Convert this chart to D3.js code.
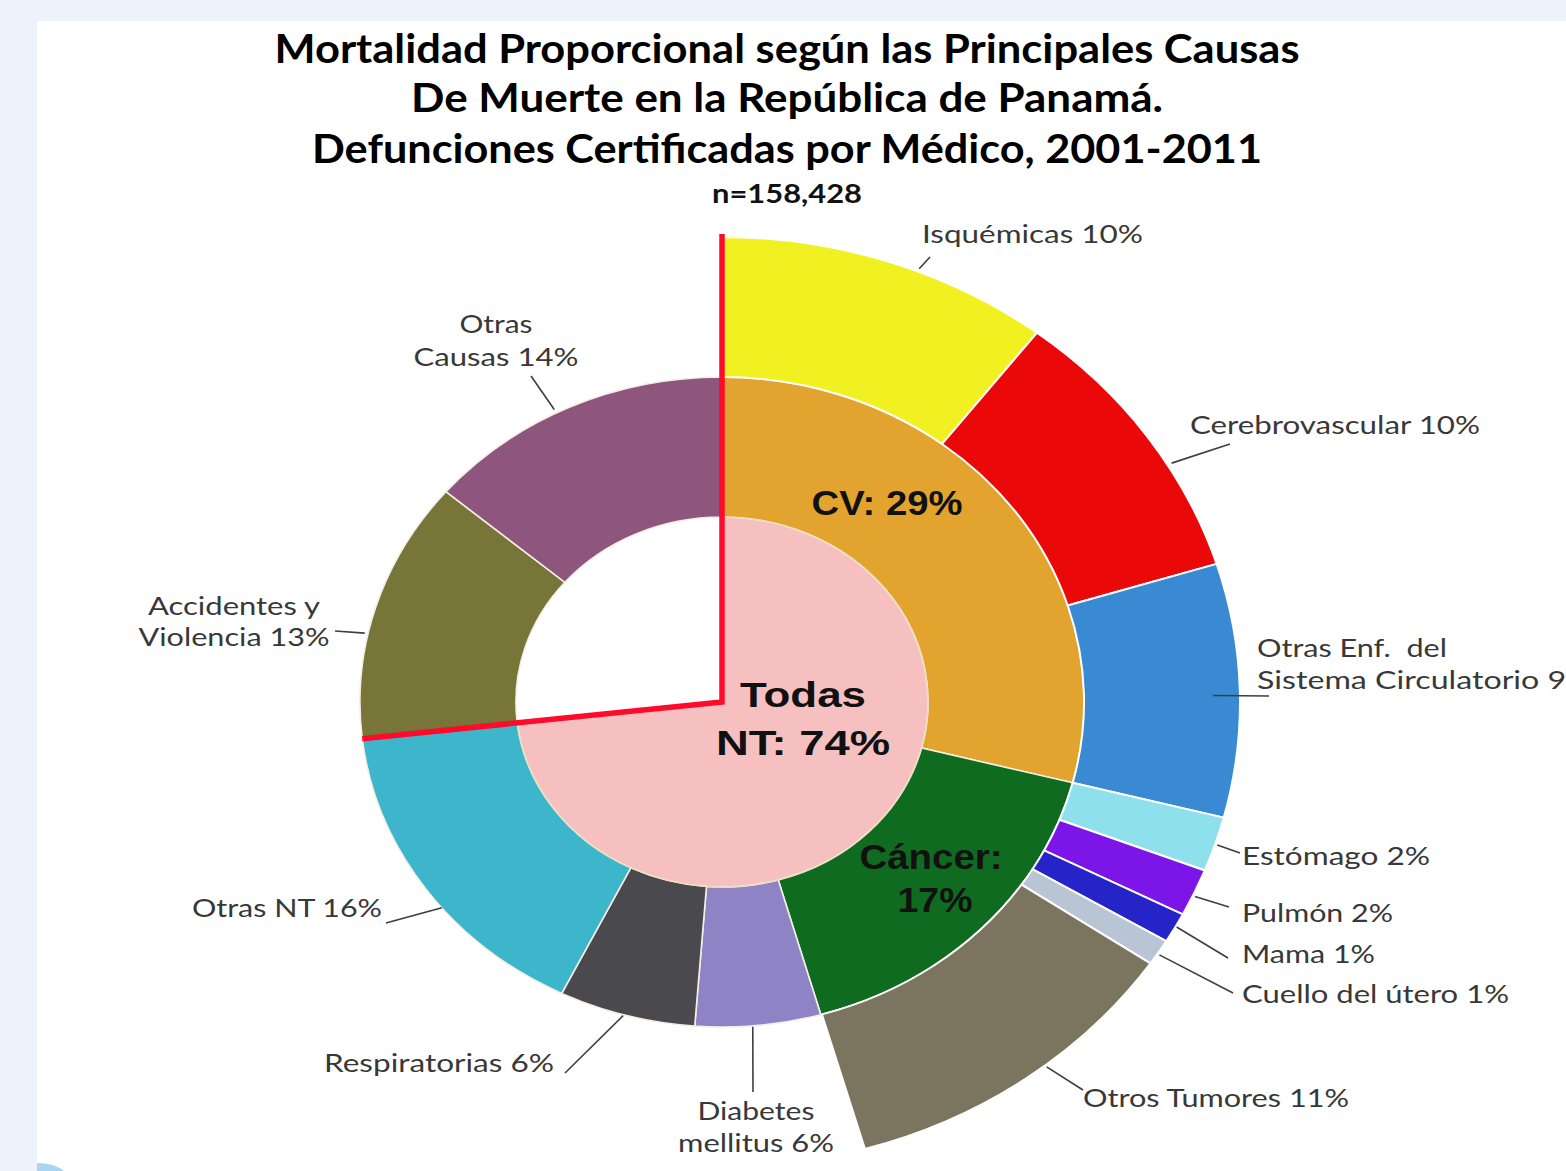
<!DOCTYPE html>
<html><head><meta charset="utf-8">
<script src="https://cdn.jsdelivr.net/npm/d3@7"></script>
<style>
html,body{margin:0;padding:0;background:#eef3fb;overflow:hidden;}
svg{display:block;}
text{white-space:pre;}
</style></head><body>
<svg id="chart" width="1566" height="1171"></svg>
<script>
// ---------------- DATA ----------------
const titleLines = ["Mortalidad Proporcional según las Principales Causas",
                    "De Muerte en la República de Panamá.",
                    "Defunciones Certificadas por Médico, 2001-2011"];
const totalN = "158,428";
const ntName = "Todas NT";
const ntValue = 73.2;      // share of the circle
const ntPct = 74;          // printed label
const groupNames = ["CV","Cáncer","Diabetes mellitus","Respiratorias","Otras NT","Accidentes y Violencia","Otras Causas"];
const groupValues = [29.0, 16.6, 5.6, 6.1, 15.9, 13.0, 13.8];
const groupPct = [29, 17, 6, 6, 16, 13, 14];
const subParents = ["CV","CV","CV","Cáncer","Cáncer","Cáncer","Cáncer","Cáncer"];
const subNames = ["Isquémicas","Cerebrovascular","Otras Enf. del Sistema Circulatorio","Estómago","Pulmón","Mama","Cuello del útero","Otros Tumores"];
const subValues = [10.4, 9.8, 8.8, 1.9, 1.65, 1.05, 0.9, 11.05];
const subPct = [10, 10, 9, 2, 2, 1, 1, 11];

// ---------------- STYLE / LAYOUT ----------------
const W = 1566, H = 1171;
const cx = 722, cy = 702, sx = 1.114;
const r0 = 185, r1 = 325, r2 = 465;
const pinkColor = "#f7c0c0";
const groupColors = ["#e2a42e","#0f6b1f","#8d83c5","#4a4a4e","#3db6cb","#777537","#8e557d"];
const subColors = ["#f1f121","#eb0808","#3a8ad3","#8ee0ec","#7b15e8","#2424c8","#b9c5d4","#7b745f"];

const svg = d3.select("#chart");
svg.append("rect").attr("x",0).attr("y",0).attr("width",W).attr("height",H).attr("fill","#eef3fb");
svg.append("rect").attr("x",37).attr("y",21).attr("width",W-37).attr("height",H-21).attr("fill","#ffffff");
svg.append("path").attr("d","M37,1163 Q54,1163 64,1171 L37,1171 Z").attr("fill","#a9d5f1");

// title
const titleFont = "Lato, 'Open Sans', sans-serif";
const titleY = [63, 112, 163];
const titleW = [1025, 752, 950];
titleLines.forEach((t,i)=>{
  svg.append("text").attr("x",787).attr("y",titleY[i]).attr("text-anchor","middle")
    .attr("font-family",titleFont).attr("font-weight","bold").attr("font-size",41)
    .attr("textLength",titleW[i]).attr("lengthAdjust","spacingAndGlyphs")
    .attr("fill","#000").text(t);
});
svg.append("text").attr("x",787).attr("y",203).attr("text-anchor","middle")
  .attr("font-family",titleFont).attr("font-weight","bold").attr("font-size",27)
  .attr("textLength",150).attr("lengthAdjust","spacingAndGlyphs")
  .attr("fill","#111").text("n=" + totalN);

// scales
const ang = d3.scaleLinear().domain([0,100]).range([0, 2*Math.PI]);
const deg = d3.scaleLinear().domain([0,100]).range([0, 360]);

// middle ring geometry
const gEnd = Array.from(d3.cumsum(groupValues));
const gStart = [0].concat(gEnd.slice(0,-1));
const groups = groupNames.map((n,i)=>({name:n, value:groupValues[i], pct:groupPct[i], s:gStart[i], e:gEnd[i], color:groupColors[i]}));
// outer ring geometry (children start at their parent's start)
const cursor = {};
groups.forEach(g=>cursor[g.name]=g.s);
const subs = subNames.map((n,i)=>{
  const p = subParents[i];
  const s = cursor[p]; const e = s + subValues[i]; cursor[p] = e;
  return {name:n, value:subValues[i], pct:subPct[i], s, e, color:subColors[i]};
});

const g = svg.append("g").attr("transform",`translate(${cx},${cy}) scale(${sx},1)`);
const arc = d3.arc();

// inner pie: Todas NT
g.append("path")
  .attr("d", arc({innerRadius:0, outerRadius:r0, startAngle:ang(0), endAngle:ang(ntValue)}))
  .attr("fill", pinkColor).attr("stroke","#eadcb6").attr("stroke-width",1.5)
  .attr("vector-effect","non-scaling-stroke");

// middle ring
g.selectAll("path.mid").data(groups).enter().append("path").attr("class","mid")
  .attr("d", d=>arc({innerRadius:r0, outerRadius:r1, startAngle:ang(d.s), endAngle:ang(d.e)}))
  .attr("fill", d=>d.color).attr("stroke","#f4efe4").attr("stroke-width",1.6)
  .attr("vector-effect","non-scaling-stroke");

// outer ring
g.selectAll("path.out").data(subs).enter().append("path").attr("class","out")
  .attr("d", d=>arc({innerRadius:r1, outerRadius:r2, startAngle:ang(d.s), endAngle:ang(d.e)}))
  .attr("fill", d=>d.color).attr("stroke","#ffffff").attr("stroke-width",2)
  .attr("vector-effect","non-scaling-stroke");

// thin beige outline of the NT pie over the ring
g.append("path")
  .attr("d", arc({innerRadius:r0-0.5, outerRadius:r0+0.5, startAngle:ang(0), endAngle:ang(ntValue)}))
  .attr("fill","#eadcb6");

// red boundary line of the NT group
function pol(dg, r){ const a = dg*Math.PI/180; return [r*Math.sin(a), -r*Math.cos(a)]; }
const pTop = pol(0, r2+3), pEnd = pol(deg(ntValue), r1);
g.append("path").attr("d", `M${pTop[0]},${pTop[1]} L0,0 L${pEnd[0]},${pEnd[1]}`)
  .attr("fill","none").attr("stroke","#fe0a2a").attr("stroke-width",5.5)
  .attr("stroke-linejoin","miter").attr("vector-effect","non-scaling-stroke");

// screen polar
function spol(dg, r){ const a = dg*Math.PI/180; return [cx + sx*r*Math.sin(a), cy - r*Math.cos(a)]; }

// outside labels
const labFont = "Lato, 'Open Sans', sans-serif";
const outLabels = [
  {d:subs[0], lines:[`Isquémicas ${subs[0].pct}%`], x:922, ys:[243], anchor:"start", ws:[221], lead:{dt:3.5, r:468, end:[930,257]}},
  {d:subs[1], lines:[`Cerebrovascular ${subs[1].pct}%`], x:1190, ys:[434], anchor:"start", ws:[290], lead:{dt:4.3, r:469, end:[1230,444]}},
  {d:subs[2], lines:["Otras Enf.\u00a0 del", `Sistema Circulatorio ${subs[2].pct}%`], x:1257, ys:[657,689], anchor:"start", ws:[190,335], lead:{dt:0.6, r:441, end:[1269,696]}},
  {d:subs[3], lines:[`Estómago ${subs[3].pct}%`], x:1242, ys:[865], anchor:"start", ws:[188], lead:{dt:0, r:467, end:[1240,853]}},
  {d:subs[4], lines:[`Pulmón ${subs[4].pct}%`], x:1242, ys:[922], anchor:"start", ws:[151], lead:{dt:0.4, r:467, end:[1229,907]}},
  {d:subs[5], lines:[`Mama ${subs[5].pct}%`], x:1242, ys:[963], anchor:"start", ws:[133], lead:{dt:-0.2, r:466, end:[1228,958]}},
  {d:subs[6], lines:[`Cuello del útero ${subs[6].pct}%`], x:1242, ys:[1003], anchor:"start", ws:[267], lead:{dt:0.2, r:467, end:[1233,993]}},
  {d:subs[7], lines:[`Otros Tumores ${subs[7].pct}%`], x:1083, ys:[1107], anchor:"start", ws:[266], lead:{dt:-2.7, r:467, end:[1083,1090]}},
  {d:groups[2], lines:["Diabetes", `mellitus ${groups[2].pct}%`], x:756, ys:[1120,1152], anchor:"middle", ws:[117,156], lead:{dt:0.9, r:326, end:[753,1092]}},
  {d:groups[3], lines:[`Respiratorias ${groups[3].pct}%`], x:554, ys:[1072], anchor:"end", ws:[230], lead:{dt:0.5, r:326, end:[565,1073]}},
  {d:groups[4], lines:[`Otras NT ${groups[4].pct}%`], x:382, ys:[917], anchor:"end", ws:[190], lead:{dt:-4.2, r:325, end:[386,923]}},
  {d:groups[5], lines:["Accidentes y", `Violencia ${groups[5].pct}%`], x:234, ys:[615,646], anchor:"middle", ws:[172,191], lead:{dt:-4.8, r:328, end:[335,631]}},
  {d:groups[6], lines:["Otras", `Causas ${groups[6].pct}%`], x:496, ys:[333,366], anchor:"middle", ws:[73,165], lead:{dt:-2.4, r:329, end:[531,376]}}
];
outLabels.forEach(L=>{
  const mid = deg((L.d.s + L.d.e)/2) + L.lead.dt;
  const p = spol(mid, L.lead.r);
  svg.append("line").attr("x1",p[0]).attr("y1",p[1]).attr("x2",L.lead.end[0]).attr("y2",L.lead.end[1])
    .attr("stroke","#3e3e3e").attr("stroke-width",1.6);
  L.lines.forEach((t,i)=>{
    svg.append("text").attr("x",L.x).attr("y",L.ys[i]).attr("text-anchor",L.anchor)
      .attr("font-family",labFont).attr("font-size",25).attr("fill","#383838")
      .attr("textLength",L.ws[i]).attr("lengthAdjust","spacingAndGlyphs").text(t);
  });
});

// inside labels
const inFont = "'Liberation Sans', Arial, sans-serif";
const inLabels = [
  {lines:[`${groups[0].name}: ${groups[0].pct}%`], xs:[887], ys:[515], ws:[151]},
  {lines:[`${groups[1].name}:`, `${groups[1].pct}%`], xs:[931,935], ys:[869,912], ws:[143,75]},
  {lines:[ntName.split(" ")[0], `${ntName.split(" ")[1]}: ${ntPct}%`], xs:[803,803], ys:[707,755], ws:[126,174]}
];
inLabels.forEach(L=>{
  L.lines.forEach((t,i)=>{
    svg.append("text").attr("x",L.xs[i]).attr("y",L.ys[i]).attr("text-anchor","middle")
      .attr("font-family",inFont).attr("font-weight","bold").attr("font-size",35).attr("fill","#111")
      .attr("textLength",L.ws[i]).attr("lengthAdjust","spacingAndGlyphs").text(t);
  });
});
</script>
</body></html>
